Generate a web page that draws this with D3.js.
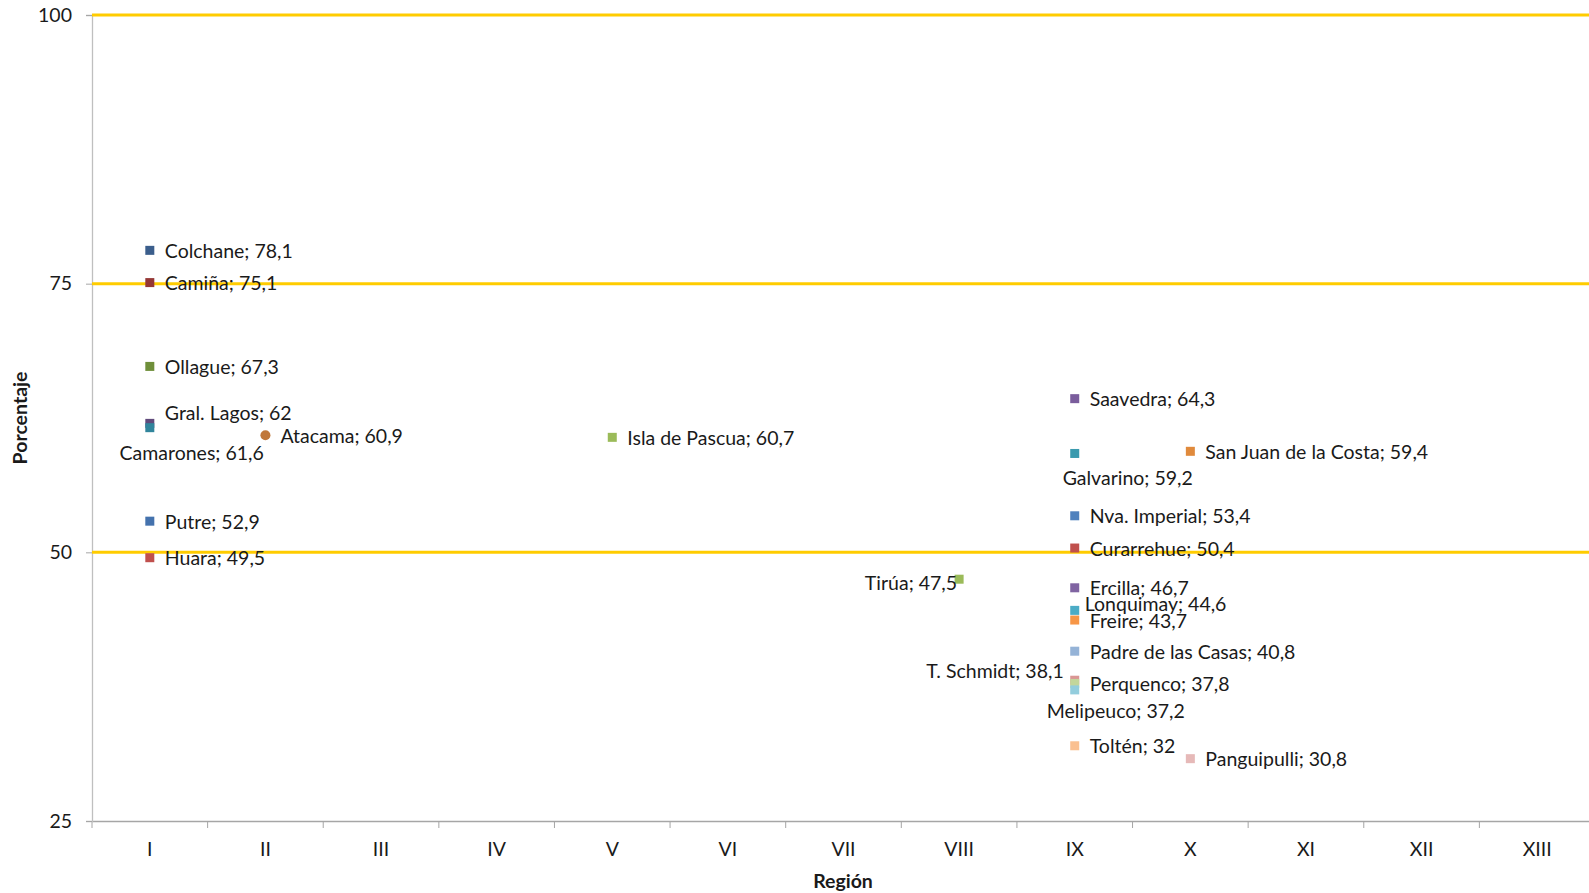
<!DOCTYPE html>
<html>
<head>
<meta charset="utf-8">
<script src="https://cdn.jsdelivr.net/npm/d3@7"></script>
<style>
  html, body { margin: 0; padding: 0; background: #fff; overflow: hidden; }
  svg { display: block; }
  svg text { font-family: Lato, "Open Sans", sans-serif; }
</style>
</head>
<body>
<svg id="chart"></svg>
<script>
// regions on the x axis
const regions = ['I', 'II', 'III', 'IV', 'V', 'VI', 'VII', 'VIII', 'IX', 'X', 'XI', 'XII', 'XIII'];
const yTicks = [25, 50, 75, 100];
const refLines = [50, 75, 100];

// comunas, their region and percentage
const comunas = ['Colchane', 'Camiña', 'Ollague', 'Gral. Lagos', 'Camarones', 'Putre', 'Huara',
  'Atacama', 'Isla de Pascua', 'Tirúa',
  'Saavedra', 'Galvarino', 'Nva. Imperial', 'Curarrehue', 'Ercilla', 'Lonquimay', 'Freire',
  'Padre de las Casas', 'T. Schmidt', 'Perquenco', 'Melipeuco', 'Toltén',
  'San Juan de la Costa', 'Panguipulli'];
const comunaRegion = ['I', 'I', 'I', 'I', 'I', 'I', 'I',
  'II', 'V', 'VIII',
  'IX', 'IX', 'IX', 'IX', 'IX', 'IX', 'IX', 'IX', 'IX', 'IX', 'IX', 'IX',
  'X', 'X'];
const porcentaje = [78.1, 75.1, 67.3, 62, 61.6, 52.9, 49.5,
  60.9, 60.7, 47.5,
  64.3, 59.2, 53.4, 50.4, 46.7, 44.6, 43.7, 40.8, 38.1, 37.8, 37.2, 32,
  59.4, 30.8];
const colores = ['#3b5e8c', '#953735', '#6f8f3a', '#604a7b', '#31859c', '#4472ad', '#c0504d',
  '#c0773a', '#9bbb59', '#9bbb59',
  '#7a5d9c', '#3a9aae', '#4f81bd', '#c0504d', '#8064a2', '#4bacc6', '#f79646',
  '#95b3d7', '#da9694', '#c3d69b', '#93cddd', '#fac090',
  '#e08a3c', '#e6b9b8'];

// label placement tweaks (dx, dy, anchor) where the label is not simply to the right
const labelTweaks = {
  'Gral. Lagos': [15, -11, 'start'],
  'Camarones': [114, 25, 'end'],
  'Galvarino': [53, 24, 'middle'],
  'Lonquimay': [10, -7, 'start'],
  'Melipeuco': [41, 21, 'middle'],
  'T. Schmidt': [-11, -10, 'end'],
  'Tirúa': [-2, 3, 'end']
};

const W = 1589, H = 893;
const margin = { top: 15, right: -6, bottom: 72, left: 92 };
const width = W - margin.left - margin.right;
const height = H - margin.top - margin.bottom;
const fs = 19.5;

const svg = d3.select('#chart')
  .attr('width', W)
  .attr('height', H)
  .append('g')
  .attr('transform', `translate(${margin.left},${margin.top})`);

const xScale = d3.scaleBand()
  .domain(regions)
  .range([0, width]);

const yScale = d3.scaleLinear()
  .domain([25, 100])
  .range([height, 0]);

// x axis
const xAxis = svg.append('g')
  .attr('transform', `translate(0,${height})`)
  .call(d3.axisBottom(xScale).tickSize(0).tickPadding(21));
xAxis.select('.domain').attr('stroke', '#a6a6a6').attr('stroke-width', 1.3);
xAxis.selectAll('text').attr('font-size', fs).attr('fill', '#1a1a1a');
// tick marks between categories
xAxis.selectAll('.sep')
  .data(d3.range(regions.length + 1))
  .enter()
  .append('line')
  .attr('x1', i => i * xScale.step())
  .attr('x2', i => i * xScale.step())
  .attr('y1', 0)
  .attr('y2', 7)
  .attr('stroke', '#a6a6a6');

// y axis
const yAxis = svg.append('g')
  .call(d3.axisLeft(yScale).tickValues(yTicks).tickSize(6).tickPadding(14));
yAxis.select('.domain').attr('stroke', '#bfbfbf').attr('stroke-width', 1.3);
yAxis.selectAll('line').attr('stroke', '#a6a6a6');
yAxis.selectAll('text').attr('font-size', fs).attr('fill', '#1a1a1a');

// yellow reference lines
svg.selectAll('.ref')
  .data(refLines)
  .enter()
  .append('line')
  .attr('x1', 0)
  .attr('x2', width)
  .attr('y1', d => yScale(d))
  .attr('y2', d => yScale(d))
  .attr('stroke', '#ffcc00')
  .attr('stroke-width', 3);

// axis titles
svg.append('text')
  .attr('transform', `translate(${22 - margin.left},${yScale(62.5)}) rotate(-90)`)
  .attr('text-anchor', 'middle')
  .attr('dominant-baseline', 'middle')
  .attr('font-size', fs)
  .attr('font-weight', 'bold')
  .attr('fill', '#1a1a1a')
  .text('Porcentaje');

svg.append('text')
  .attr('x', 843 - margin.left)
  .attr('y', 883 - margin.top)
  .attr('text-anchor', 'middle')
  .attr('dominant-baseline', 'middle')
  .attr('font-size', fs)
  .attr('font-weight', 'bold')
  .attr('fill', '#1a1a1a')
  .text('Región');

const data = comunas.map((c, i) => ({
  name: c, region: comunaRegion[i], value: porcentaje[i], color: colores[i]
}));
const cx = d => xScale(d.region) + xScale.bandwidth() / 2;

// markers
const s = 9;
svg.selectAll('.pt')
  .data(data)
  .enter()
  .each(function (d) {
    const g = d3.select(this);
    if (d.name === 'Atacama') {
      g.append('circle')
        .attr('cx', cx(d))
        .attr('cy', yScale(d.value))
        .attr('r', 5)
        .attr('fill', d.color);
    } else {
      g.append('rect')
        .attr('x', cx(d) - s / 2)
        .attr('y', yScale(d.value) - s / 2)
        .attr('width', s)
        .attr('height', s)
        .attr('fill', d.color);
    }
  });

// labels
svg.selectAll('.lbl')
  .data(data)
  .enter()
  .append('text')
  .attr('x', d => cx(d) + (labelTweaks[d.name] ? labelTweaks[d.name][0] : 15))
  .attr('y', d => yScale(d.value) + (labelTweaks[d.name] ? labelTweaks[d.name][1] : 0))
  .attr('text-anchor', d => labelTweaks[d.name] ? labelTweaks[d.name][2] : 'start')
  .attr('dominant-baseline', 'central')
  .attr('font-size', fs)
  .attr('fill', '#1a1a1a')
  .text(d => `${d.name}; ${String(d.value).replace('.', ',')}`);
</script>
</body>
</html>
